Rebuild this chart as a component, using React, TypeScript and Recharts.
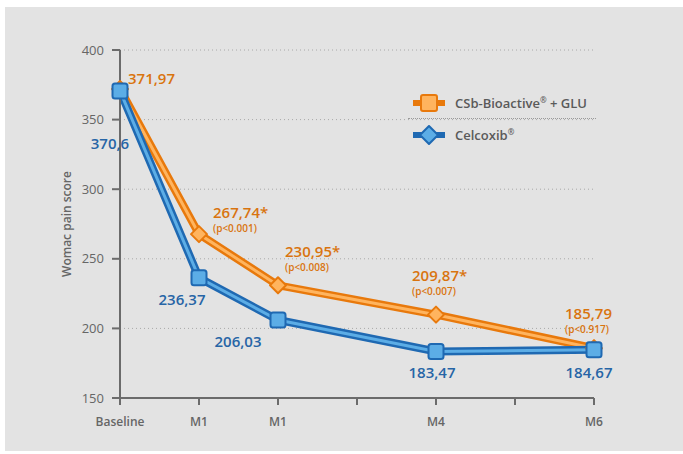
import React from 'react';
import {
  LineChart, Line, XAxis, YAxis, CartesianGrid, Legend, LabelList,
} from 'recharts';

// time points (numeric positions on a 0..6 scale) and their tick labels
const positions = [0, 1, 2, 4, 6];
const tickLabels = ['Baseline', 'M1', 'M1', '', 'M4', '', 'M6'];

const csbValues = [371.97, 267.74, 230.95, 209.87, 185.79];
const csbStars = [false, true, true, true, false];
const csbPValues = ['', '(p<0.001)', '(p<0.008)', '(p<0.007)', '(p<0.917)'];

const celValues = [370.6, 236.37, 206.03, 183.47, 184.67];

const yTicks = [150, 200, 250, 300, 350, 400];

const chartData = positions.map((x, i) => ({ x, csb: csbValues[i], cel: celValues[i] }));

// label placement relative to each point: [dx, dy]
const csbLabelOffset = [[8, -11], [14, -22], [7, -34], [-24, -40], [-29, -35]];
const celLabelOffset = [[-10, 52], [-17, 21], [-40, 21], [-4, 21], [-5, 22]];

const ORANGE_DARK = '#e8790c';
const ORANGE_LIGHT = '#ffb45e';
const ORANGE_TEXT = '#d9740f';
const BLUE_DARK = '#1f69b2';
const BLUE_LIGHT = '#5cade6';
const BLUE_TEXT = '#2765a6';
const FONT = '"Open Sans", sans-serif';

const fmt = (v: number) => String(v).replace('.', ',');

const Diamond = ({ cx, cy, r = 8 }: any) => (
  <polygon
    points={`${cx},${cy - r} ${cx + r},${cy} ${cx},${cy + r} ${cx - r},${cy}`}
    fill={ORANGE_LIGHT}
    stroke={ORANGE_DARK}
    strokeWidth={2}
    strokeLinejoin="round"
  />
);

const Square = ({ cx, cy, s = 15 }: any) => (
  <rect
    x={cx - s / 2}
    y={cy - s / 2}
    width={s}
    height={s}
    rx={2.5}
    fill={BLUE_LIGHT}
    stroke={BLUE_DARK}
    strokeWidth={2}
  />
);

const renderDiamondDot = (props: any) => <Diamond key={`d${props.index}`} cx={props.cx} cy={props.cy} />;
const renderSquareDot = (props: any) => <Square key={`s${props.index}`} cx={props.cx} cy={props.cy} />;

const CsbLabel = (props: any) => {
  const { x, y, index, value } = props;
  const [dx, dy] = csbLabelOffset[index];
  return (
    <g>
      <text
        x={x + dx}
        y={y + dy}
        fill={ORANGE_TEXT}
        fontSize={15}
        fontWeight={600}
        fontFamily={FONT}
        dominantBaseline="central"
      >
        {fmt(value)}{csbStars[index] ? '*' : ''}
      </text>
      {csbPValues[index] && (
        <text
          x={x + dx}
          y={y + dy + 16}
          fill={ORANGE_TEXT}
          fontSize={10}
          fontWeight={600}
          fontFamily={FONT}
          dominantBaseline="central"
        >
          {csbPValues[index]}
        </text>
      )}
    </g>
  );
};

const CelLabel = (props: any) => {
  const { x, y, index, value } = props;
  const [dx, dy] = celLabelOffset[index];
  return (
    <text
      x={x + dx}
      y={y + dy}
      fill={BLUE_TEXT}
      fontSize={15}
      fontWeight={600}
      fontFamily={FONT}
      textAnchor="middle"
      dominantBaseline="central"
    >
      {fmt(value)}
    </text>
  );
};

const LegendIcon = ({ kind }: { kind: 'csb' | 'cel' }) => {
  const dark = kind === 'csb' ? ORANGE_DARK : BLUE_DARK;
  const light = kind === 'csb' ? ORANGE_LIGHT : BLUE_LIGHT;
  return (
    <svg width={34} height={20} style={{ display: 'block' }}>
      <line x1={1} y1={10} x2={33} y2={10} stroke={dark} strokeWidth={6} />
      {kind === 'csb' ? (
        <rect x={9} y={2} width={16} height={16} rx={2} fill={light} stroke={dark} strokeWidth={2} />
      ) : (
        <polygon points="17,1 26,10 17,19 8,10" fill={light} stroke={dark} strokeWidth={2} strokeLinejoin="round" />
      )}
    </svg>
  );
};

const CustomLegend = () => (
  <div style={{ width: 188, fontFamily: FONT, color: '#5a5a5a', fontSize: 13, fontWeight: 600 }}>
    <div style={{ display: 'flex', alignItems: 'center', height: 30, paddingLeft: 4 }}>
      <LegendIcon kind="csb" />
      <span style={{ marginLeft: 9 }}>
        CSb-Bioactive<sup style={{ fontSize: 8 }}>®</sup> + GLU
      </span>
    </div>
    <div style={{ borderTop: '1px dotted #9a9a9a' }} />
    <div style={{ display: 'flex', alignItems: 'center', height: 32, paddingLeft: 4 }}>
      <LegendIcon kind="cel" />
      <span style={{ marginLeft: 9 }}>
        Celcoxib<sup style={{ fontSize: 8 }}>®</sup>
      </span>
    </div>
  </div>
);

export default function App() {
  return (
    <div style={{ position: 'absolute', left: 0, top: 0, width: 683, height: 454, background: '#fff' }}>
      <div style={{ position: 'absolute', left: 5, top: 7, width: 678, height: 444, background: '#e3e3e3' }} />
      <div style={{ position: 'absolute', left: 0, top: 0 }}>
        <LineChart
          width={683}
          height={454}
          data={chartData}
          margin={{ top: 50, right: 89, bottom: 26, left: 0 }}
        >
          <CartesianGrid vertical={false} stroke="#a8a8a8" strokeDasharray="1 3" />
          <XAxis
            dataKey="x"
            type="number"
            domain={[0, 6]}
            ticks={[0, 1, 2, 3, 4, 5, 6]}
            tickFormatter={(v: number) => tickLabels[v]}
            stroke="#6b6b6b"
            strokeWidth={2}
            height={30}
            tickSize={7}
            tickMargin={12}
            tick={{ fontSize: 12, fill: '#666', fontFamily: FONT, fontWeight: 600 }}
          />
          <YAxis
            type="number"
            domain={[150, 400]}
            ticks={yTicks}
            width={120}
            stroke="#6b6b6b"
            strokeWidth={2}
            tickSize={8}
            tickMargin={8}
            tick={{ fontSize: 13, fill: '#666', fontFamily: FONT }}
            label={({ viewBox }: any) => (
              <text
                x={66}
                y={viewBox.y + viewBox.height / 2}
                transform={`rotate(-90, 66, ${viewBox.y + viewBox.height / 2})`}
                textAnchor="middle"
                dominantBaseline="central"
                fill="#666"
                fontSize={12}
                fontWeight={600}
                fontFamily={FONT}
              >
                Womac pain score
              </text>
            )}
          />
          <Legend
            layout="horizontal"
            verticalAlign="middle"
            align="center"
            content={<CustomLegend />}
            wrapperStyle={{ position: 'absolute', top: 88, left: 408, width: 190 }}
          />
          <Line
            dataKey="csb"
            stroke={ORANGE_DARK}
            strokeWidth={8}
            dot={false}
            activeDot={false}
            legendType="none"
            isAnimationActive={false}
          />
          <Line
            dataKey="csb"
            stroke={ORANGE_LIGHT}
            strokeWidth={3}
            dot={renderDiamondDot}
            activeDot={false}
            legendType="none"
            isAnimationActive={false}
          >
            <LabelList dataKey="csb" content={<CsbLabel />} />
          </Line>
          <Line
            dataKey="cel"
            stroke={BLUE_DARK}
            strokeWidth={8}
            dot={false}
            activeDot={false}
            legendType="none"
            isAnimationActive={false}
          />
          <Line
            dataKey="cel"
            stroke={BLUE_LIGHT}
            strokeWidth={3}
            dot={renderSquareDot}
            activeDot={false}
            legendType="none"
            isAnimationActive={false}
          >
            <LabelList dataKey="cel" content={<CelLabel />} />
          </Line>
        </LineChart>
      </div>
    </div>
  );
}
